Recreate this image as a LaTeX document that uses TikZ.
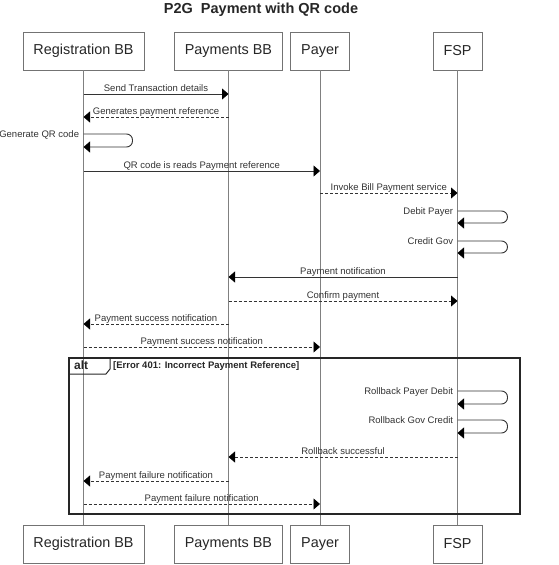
\documentclass[tikz,border=0pt]{standalone}
\usepackage{fontspec}
\setmainfont{Liberation Sans}
\usetikzlibrary{arrows.meta}

\tikzset{
  actor/.style={draw=black!55, fill=white, minimum height=38pt, inner xsep=10.5pt, inner ysep=0pt, font=\fontsize{14.4}{16}\selectfont, text=black!85},
  lifeline/.style={draw=black!50, line width=0.9pt},
  call/.style={draw=black!80, line width=0.9pt, -{Triangle[length=6.5pt,width=11pt,color=black]}},
  reply/.style={call, dash pattern=on 3pt off 2pt},
  lbl/.style={font=\fontsize{9.5}{11}\selectfont, text=black!80, anchor=base, yshift=3pt, inner sep=0pt},
  selflbl/.style={font=\fontsize{9.5}{11}\selectfont, text=black!80, anchor=base east, xshift=-4pt, yshift=-3.5pt, inner sep=0pt},
  selfloop/.style={call, rounded corners=6pt},
  frame/.style={draw=black!85, line width=1.3pt},
}

\begin{document}
\begin{tikzpicture}[x=1pt, y=-1pt]
		\useasboundingbox (0,0) rectangle (559,565);
		\node[font=\bfseries\fontsize{14.5}{16}\selectfont, anchor=base, text=black!85] (title) at (261,13.5) {P2G\ \ Payment with QR code};

		\node[actor] (regTop) at (83.5,51) {Registration BB};
		\node[actor] (payTop) at (228.5,51) {Payments BB};
		\node[actor] (payerTop) at (320,51) {Payer};
		\node[actor] (fspTop) at (457.5,51) {FSP};
		\node[actor] (regBot) at (83.5,544) {Registration BB};
		\node[actor] (payBot) at (228.5,544) {Payments BB};
		\node[actor] (payerBot) at (320,544) {Payer};
		\node[actor] (fspBot) at (457.5,544) {FSP};

		\draw[lifeline] (regTop) -- (regBot);
		\draw[lifeline] (payTop) -- (payBot);
		\draw[lifeline] (payerTop) -- (payerBot);
		\draw[lifeline] (fspTop) -- (fspBot);

		\foreach \n/\y in {r1/94, r2/117, r3/134, r3b/147, r4/171, r5/193, r6/211, r6b/223, r7/241, r7b/253,
			r8/277, r9/301, r10/324, r11/347, r12/391, r12b/404, r13/420, r13b/433, r14/457, r15/481, r16/504}
			\coordinate (\n) at (0,\y);

		\draw[call]  (regTop |- r1) -- (payTop |- r1) node[midway, lbl] {Send Transaction details};
		\draw[reply] (payTop |- r2) -- (regTop |- r2) node[midway, lbl] {Generates payment reference};
		\draw[selfloop] (regTop |- r3) node[selflbl] {Generate QR code} -- ++(49,0) |- (regTop |- r3b);
		\draw[call]  (regTop |- r4) -- (payerTop |- r4) node[midway, lbl] {QR code is reads Payment reference};
		\draw[reply] (payerTop |- r5) -- (fspTop |- r5) node[midway, lbl] {Invoke Bill Payment service};
		\draw[selfloop] (fspTop |- r6) node[selflbl] {Debit Payer} -- ++(50,0) |- (fspTop |- r6b);
		\draw[selfloop] (fspTop |- r7) node[selflbl] {Credit Gov} -- ++(50,0) |- (fspTop |- r7b);
		\draw[call]  (fspTop |- r8) -- (payTop |- r8) node[midway, lbl] {Payment notification};
		\draw[reply] (payTop |- r9) -- (fspTop |- r9) node[midway, lbl] {Confirm payment};
		\draw[reply] (payTop |- r10) -- (regTop |- r10) node[midway, lbl] {Payment success notification};
		\draw[reply] (regTop |- r11) -- (payerTop |- r11) node[midway, lbl] {Payment success notification};

		\coordinate (altNW) at (69,358);
		\coordinate (altSE) at (520,514);
		\draw[frame] (altNW) rectangle (altSE);
		\draw[frame, line width=1pt] (altNW) -- ++(41,0) -- ++(0,11) -- ++(-4,5) -- ++(-37,0);
		\node[font=\bfseries\fontsize{12}{14}\selectfont, anchor=base west, inner sep=0pt, text=black!85] (altlbl) at (74,369) {alt};
		\node[font=\bfseries\fontsize{9.5}{11}\selectfont, anchor=base west, inner sep=0pt, text=black!85] (guard) at (113,368.5) {[Error 401: Incorrect Payment Reference]};

		\draw[selfloop] (fspTop |- r12) node[selflbl] {Rollback Payer Debit} -- ++(50,0) |- (fspTop |- r12b);
		\draw[selfloop] (fspTop |- r13) node[selflbl] {Rollback Gov Credit} -- ++(50,0) |- (fspTop |- r13b);
		\draw[reply] (fspTop |- r14) -- (payTop |- r14) node[midway, lbl] {Rollback successful};
		\draw[reply] (payTop |- r15) -- (regTop |- r15) node[midway, lbl] {Payment failure notification};
		\draw[reply] (regTop |- r16) -- (payerTop |- r16) node[midway, lbl] {Payment failure notification};
\end{tikzpicture}
\end{document}
